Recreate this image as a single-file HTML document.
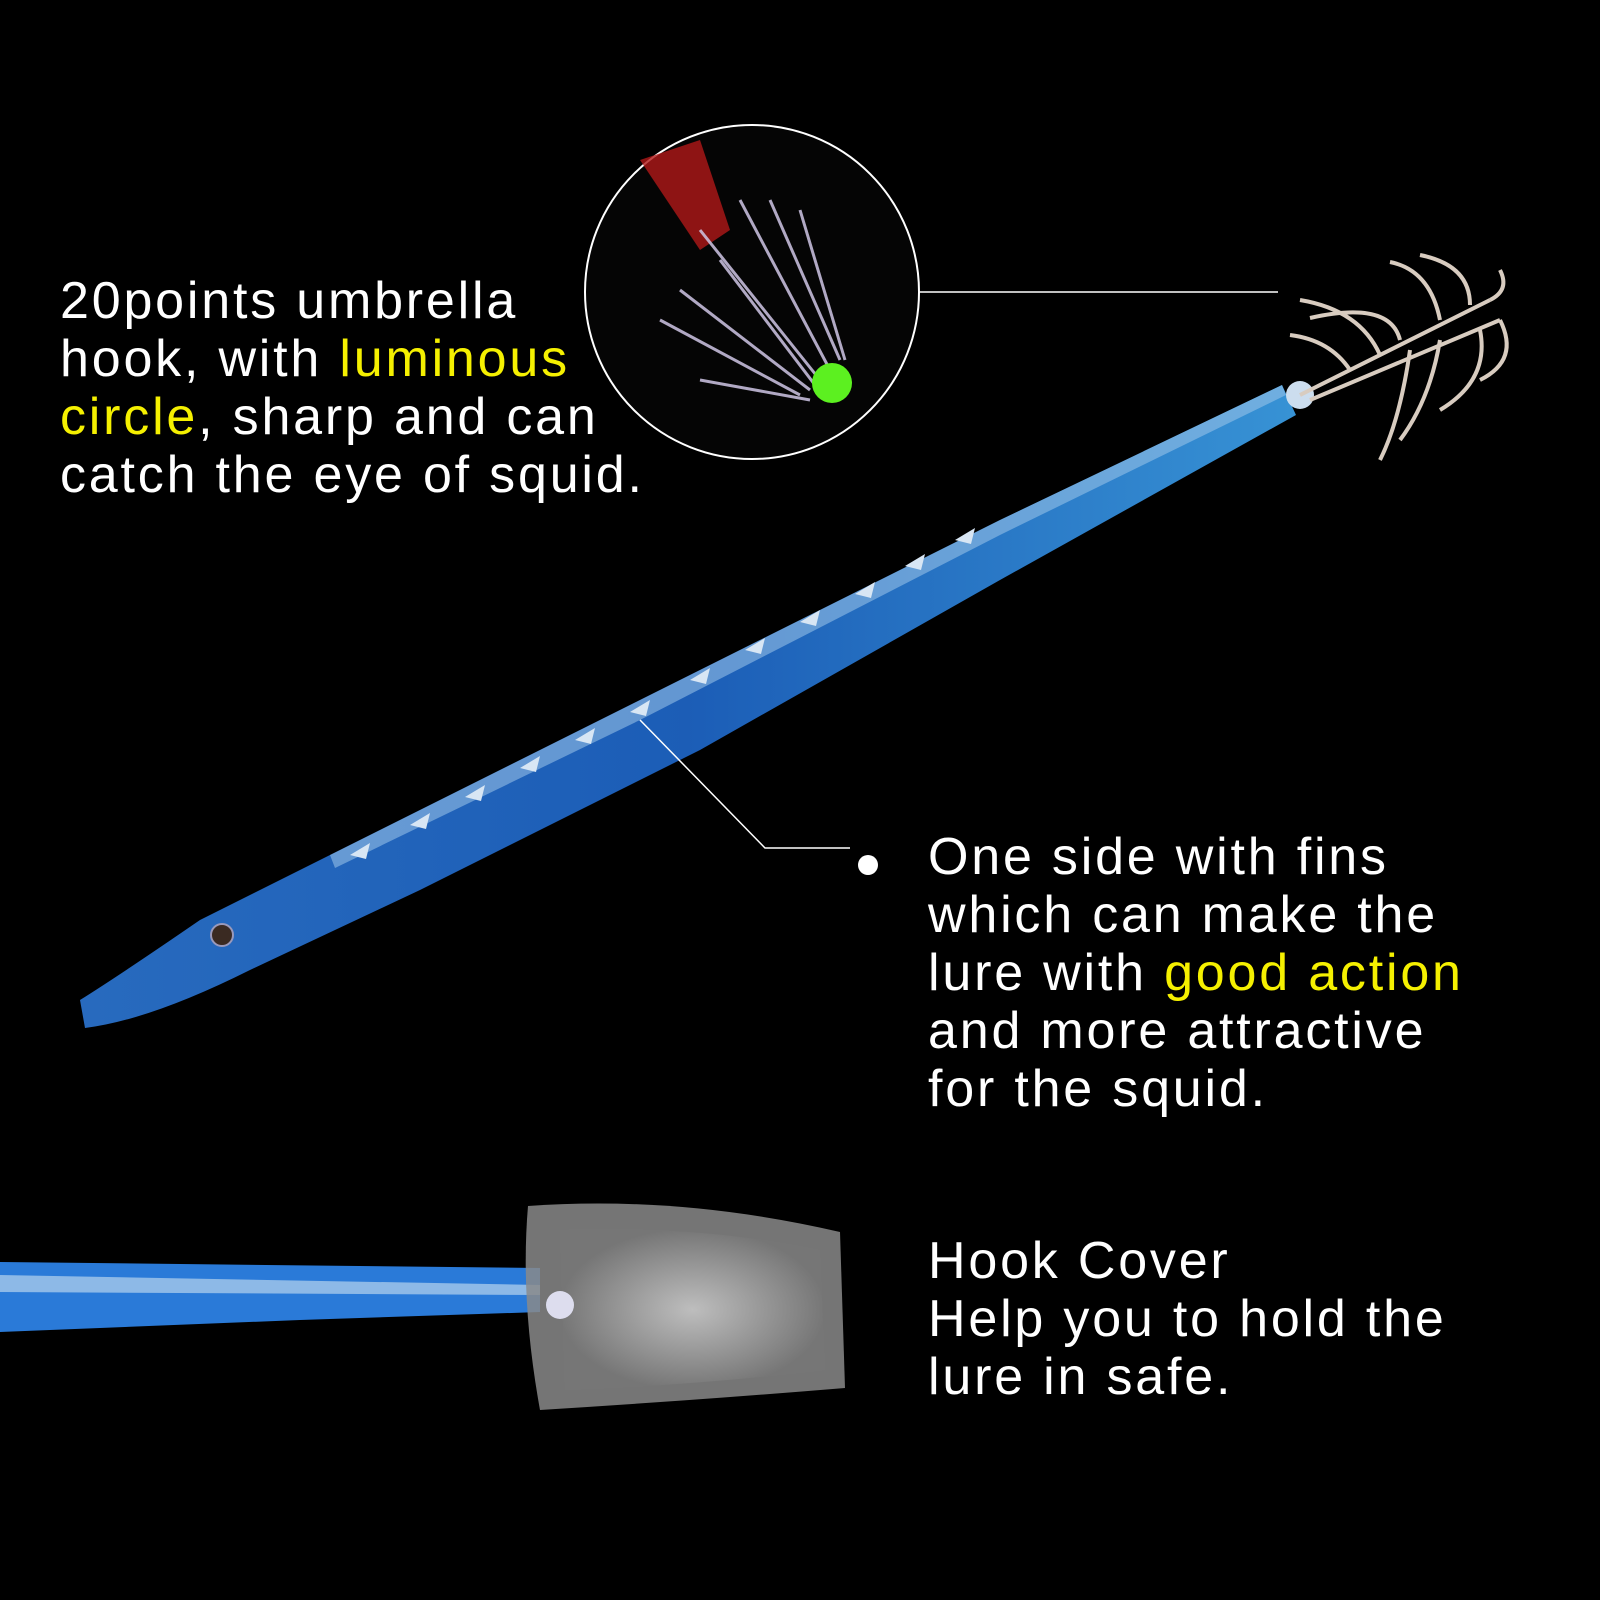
<!DOCTYPE html>
<html><head><meta charset="utf-8"><style>
html,body{margin:0;padding:0;background:#000;}
body{width:1600px;height:1600px;position:relative;overflow:hidden;font-family:"Liberation Sans",sans-serif;}
.t{position:absolute;color:#fff;font-size:52px;line-height:58px;font-weight:normal;letter-spacing:2.8px;}
.y{color:#f5f000;}
</style></head><body>
<svg width="1600" height="1600" style="position:absolute;left:0;top:0">
<defs>
<linearGradient id="b" x1="0" y1="0" x2="1" y2="0">
<stop offset="0" stop-color="#2a70c8"/><stop offset="0.5" stop-color="#1d62c0"/><stop offset="1" stop-color="#3a9ae0"/>
</linearGradient>
<radialGradient id="c" cx="0.5" cy="0.5" r="0.5"><stop offset="0" stop-color="#eee"/><stop offset="1" stop-color="#777"/></radialGradient>
</defs>
<circle cx="752" cy="292" r="167" fill="#050505" stroke="#fff" stroke-width="2"/>
<path d="M640 160 L700 140 L730 230 L700 250 Z" fill="#b01818" opacity="0.8"/>
<g stroke="#cfc6e6" stroke-width="3" fill="none" opacity="0.85">
<path d="M700 230 L820 380"/><path d="M740 200 L830 370"/><path d="M770 200 L840 360"/>
<path d="M800 210 L845 360"/><path d="M680 290 L810 390"/><path d="M660 320 L800 395"/>
<path d="M700 380 L810 400"/><path d="M720 260 L815 385"/>
</g>
<circle cx="832" cy="383" r="20" fill="#5cf020"/>
<line x1="920" y1="292" x2="1278" y2="292" stroke="#fff" stroke-width="1.5"/>
<path d="M80 1000 Q120 975 200 920 L330 855 L640 700 L1000 520 L1282 385 L1296 415 L1000 580 L700 750 L420 890 L250 970 Q150 1020 85 1028 Z" fill="url(#b)" opacity="0.95"/>
<path d="M330 855 L640 700 L1000 520 L1282 385 L1286 395 L1000 535 L640 720 L335 868 Z" fill="#9fc6ea" opacity="0.55"/>
<g fill="#d8e6f4">
<path d="M350 855 l20 -12 l-4 16z"/><path d="M410 825 l20 -12 l-4 16z"/><path d="M465 797 l20 -12 l-4 16z"/>
<path d="M520 768 l20 -12 l-4 16z"/><path d="M575 740 l20 -12 l-4 16z"/><path d="M630 712 l20 -12 l-4 16z"/>
<path d="M690 680 l20 -12 l-4 16z"/><path d="M745 650 l20 -12 l-4 16z"/><path d="M800 622 l20 -12 l-4 16z"/>
<path d="M855 594 l20 -12 l-4 16z"/><path d="M905 566 l20 -12 l-4 16z"/><path d="M955 540 l20 -12 l-4 16z"/>
</g>
<circle cx="222" cy="935" r="11" fill="#3a2a22" stroke="#99b" stroke-width="2"/>
<circle cx="1300" cy="395" r="14" fill="#cde"/>
<g stroke="#d8ccc0" stroke-width="4" fill="none">
<path d="M1300 395 L1490 300"/><path d="M1310 400 L1500 320"/>
<path d="M1380 355 Q1360 310 1300 300"/><path d="M1400 340 Q1390 300 1310 318"/>
<path d="M1440 320 Q1430 270 1390 262"/><path d="M1470 305 Q1470 265 1420 255"/>
<path d="M1490 300 Q1510 290 1500 270"/><path d="M1350 370 Q1330 340 1290 335"/>
<path d="M1410 350 Q1400 420 1380 460"/><path d="M1440 340 Q1430 400 1400 440"/>
<path d="M1480 330 Q1490 380 1440 410"/><path d="M1500 320 Q1520 360 1480 380"/>
</g>
<polyline points="640,720 765,848 850,848" fill="none" stroke="#fff" stroke-width="1.5"/>
<circle cx="868" cy="865" r="10" fill="#fff"/>
<path d="M0 1262 L540 1268 L540 1312 L300 1320 L0 1332 Z" fill="#2a7ad8"/>
<path d="M0 1275 L540 1285 L540 1295 L0 1292 Z" fill="#b8d4ee" opacity="0.7"/>
<path d="M528 1206 Q680 1195 840 1232 L845 1388 Q700 1400 540 1410 Q520 1300 528 1206 Z" fill="#8a8a8a" opacity="0.85"/>
<path d="M560 1230 Q700 1225 820 1250 L825 1370 Q700 1385 565 1390 Z" fill="url(#c)" opacity="0.6"/>
<circle cx="560" cy="1305" r="14" fill="#dde"/>
</svg>
<div class="t" style="left:60px;top:272px">20points umbrella<br>hook, with <span class="y">luminous</span><br><span class="y">circle</span>, sharp and can<br>catch the eye of squid.</div>
<div class="t" style="left:928px;top:828px">One side with fins<br>which can make the<br>lure with <span class="y">good action</span><br>and more attractive<br>for the squid.</div>
<div class="t" style="left:928px;top:1232px">Hook Cover<br>Help you to hold the<br>lure in safe.</div>
</body></html>
